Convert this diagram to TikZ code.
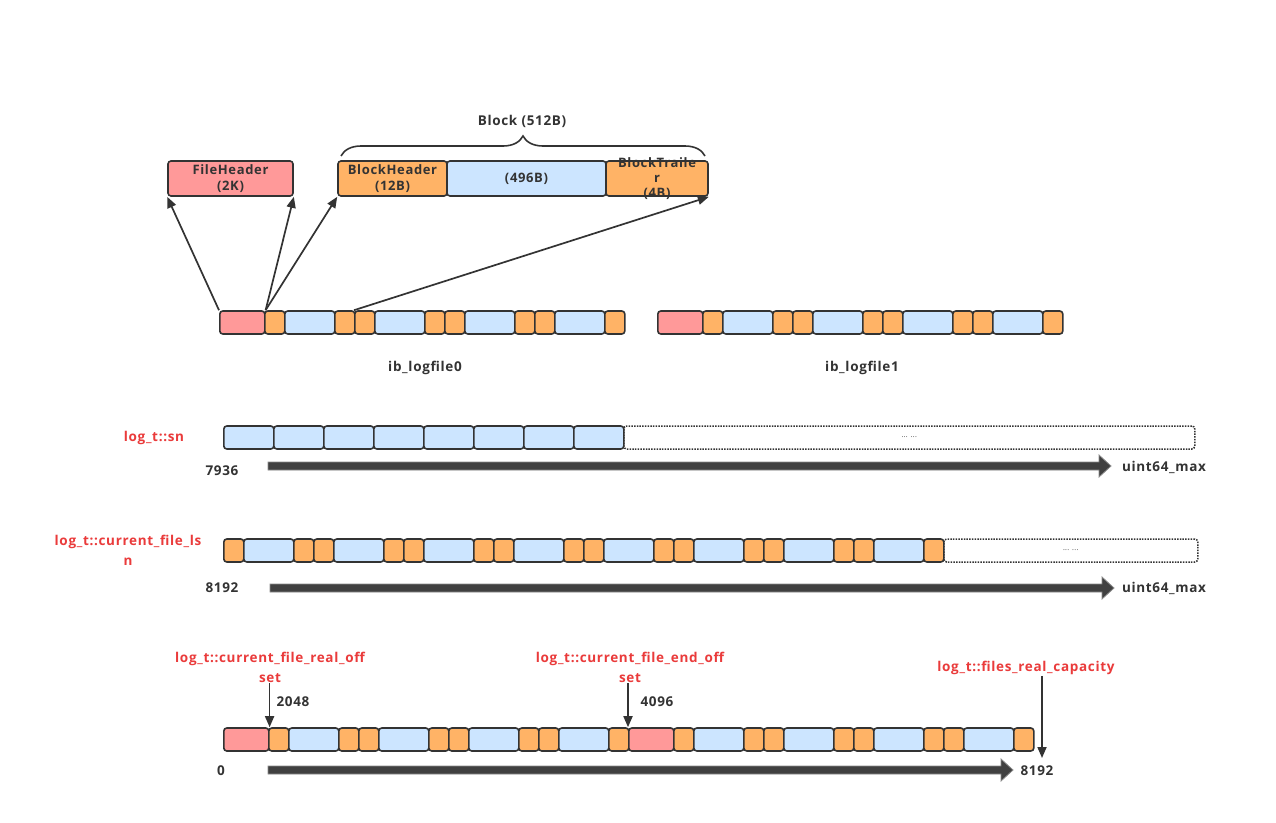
\documentclass[tikz,border=0pt]{standalone}
\usepackage{fontspec}
\setmainfont{Open Sans}[LetterSpace=5]
\usetikzlibrary{arrows.meta,decorations.pathreplacing,calc}
\definecolor{stk}{HTML}{333333}
\definecolor{pk}{HTML}{FF9999}
\definecolor{og}{HTML}{FFB366}
\definecolor{bl}{HTML}{CCE5FF}
\definecolor{rd}{HTML}{EA3B3B}
\definecolor{txt}{HTML}{333333}
\definecolor{axfill}{HTML}{404040}
\definecolor{axline}{HTML}{8A8A8A}
\newcommand\cellrow[4]{%
  \xdef\curx{#2}%
  \foreach \t/\w [count=\i] in {#4} {%
    \node[cell, fill=\t, minimum width=\w, anchor=west] (#1\i) at (\curx,#3) {};%
    \pgfmathsetmacro\nx{\curx+\w}\xdef\curx{\nx}%
  }%
}
\newcommand\axisarrow[3]{%
  \fill[axfill, draw=axline, line width=0.8pt] (#1,#3-4) -- (#2-12,#3-4) -- (#2-12,#3-11) -- (#2,#3) -- (#2-12,#3+11) -- (#2-12,#3+4) -- (#1,#3+4) -- cycle;%
}
\tikzset{
  cell/.style={draw=stk, line width=1.6pt, rounded corners=3pt, minimum height=23pt, inner sep=0pt},
  bigbox/.style={draw=stk, line width=1.6pt, rounded corners=3pt, minimum height=35pt, inner sep=0pt, align=center, text=txt, font=\bfseries\fontsize{13}{15.5}\selectfont},
  lbl/.style={text=txt, font=\bfseries\fontsize{13.5}{16}\selectfont, inner sep=1pt},
  redlbl/.style={text=rd, font=\bfseries\fontsize{13.5}{20}\selectfont, align=center, inner sep=1pt},
  dotbox/.style={draw=stk, line width=1.5pt, dash pattern=on 1.5pt off 1.2pt, rounded corners=3pt, minimum height=23pt, inner sep=0pt, font=\fontsize{7}{8}\selectfont, text=txt},
  ptr/.style={draw=stk, line width=1.7pt, -{Triangle[length=11pt,width=9pt]}},
}
\begin{document}
\begin{tikzpicture}[x=1pt,y=-1pt]
\useasboundingbox (0,0) rectangle (1276,822);
\fill[white] (0,0) rectangle (1276,822);

% top structure
\node[bigbox, fill=pk, minimum width=125pt] (fh) at (230.5,178.5) {FileHeader\\(2K)};
\node[bigbox, fill=og, minimum width=109pt] (bh) at (392.5,178.5) {BlockHeader\\(12B)};
\node[bigbox, fill=bl, minimum width=159pt] (bd) at (526.5,178.5) {(496B)};
\node[bigbox, fill=og, minimum width=102pt] (bt) at (657,178.5) {};
\node[lbl, align=center, font=\bfseries\fontsize{13}{15}\selectfont] (btt) at (657,178.5) {BlockTraile\\r\\(4B)};
\draw[stk, line width=1.6pt, decorate, decoration={brace, amplitude=20pt}] (341,156) -- (705,156);
\node[lbl] (blk) at (522,121) {Block (512B)};

% ib_logfile rows
\cellrow{fa}{219}{322.5}{pk/45,og/20,bl/50,og/20,og/20,bl/50,og/20,og/20,bl/50,og/20,og/20,bl/50,og/20}
\cellrow{fb}{657}{322.5}{pk/45,og/20,bl/50,og/20,og/20,bl/50,og/20,og/20,bl/50,og/20,og/20,bl/50,og/20}
\node[lbl] (l0) at (425,368) {ib\_logfile0};
\node[lbl] (l1) at (862,368) {ib\_logfile1};

\draw[ptr] (fa1.north west) -- (fh.south west);
\draw[ptr] (fa1.north east) -- (fh.south east);
\draw[ptr] (fa1.north east) -- (bh.south west);
\draw[ptr] (fa5.north west) -- (bt.south east);

% log_t::sn
\node[redlbl] (snl) at (154,438) {log\_t::sn};
\cellrow{sn}{223}{437.5}{bl/50,bl/50,bl/50,bl/50,bl/50,bl/50,bl/50,bl/50}
\node[dotbox, minimum width=571pt, anchor=west] (snd) at (623,437.5) {... ...};
\axisarrow{268}{1111}{466}
\node[lbl] (sn0) at (222,471) {7936};
\node[lbl] (snmax) at (1164,467) {uint64\_max};

% log_t::current_file_lsn
\node[redlbl] (lsnl) at (128,550.5) {log\_t::current\_file\_ls\\n};
\cellrow{ls}{223}{550.5}{og/20,bl/50,og/20,og/20,bl/50,og/20,og/20,bl/50,og/20,og/20,bl/50,og/20,og/20,bl/50,og/20,og/20,bl/50,og/20,og/20,bl/50,og/20,og/20,bl/50,og/20}
\node[dotbox, minimum width=254pt, anchor=west] (lsd) at (943,550.5) {... ...};
\axisarrow{270}{1114}{588}
\node[lbl] (ls0) at (222,588) {8192};
\node[lbl] (lsmax) at (1164,588) {uint64\_max};

% bottom row
\cellrow{of}{223}{739.5}{pk/45,og/20,bl/50,og/20,og/20,bl/50,og/20,og/20,bl/50,og/20,og/20,bl/50,og/20,pk/45,og/20,bl/50,og/20,og/20,bl/50,og/20,og/20,bl/50,og/20,og/20,bl/50,og/20}
\axisarrow{268}{1013}{770}
\node[lbl] (of0) at (221,771) {0};
\node[lbl] (ofmax) at (1037,771) {8192};

\node[redlbl] (ro) at (270,667) {log\_t::current\_file\_real\_off\\set};
\node[redlbl] (eo) at (630,667) {log\_t::current\_file\_end\_off\\set};
\node[redlbl] (cap) at (1026,668) {log\_t::files\_real\_capacity};
\draw[ptr] (ro.south -| of1.north east) -- (of1.north east);
\draw[ptr] (eo.south -| of14.north west) -- (of14.north west);
\coordinate (capend) at (1042,758);
\draw[ptr] (cap.south -| capend) -- (capend);
\node[lbl] (v2048) at (293,702) {2048};
\node[lbl] (v4096) at (657,702) {4096};
\end{tikzpicture}
\end{document}
